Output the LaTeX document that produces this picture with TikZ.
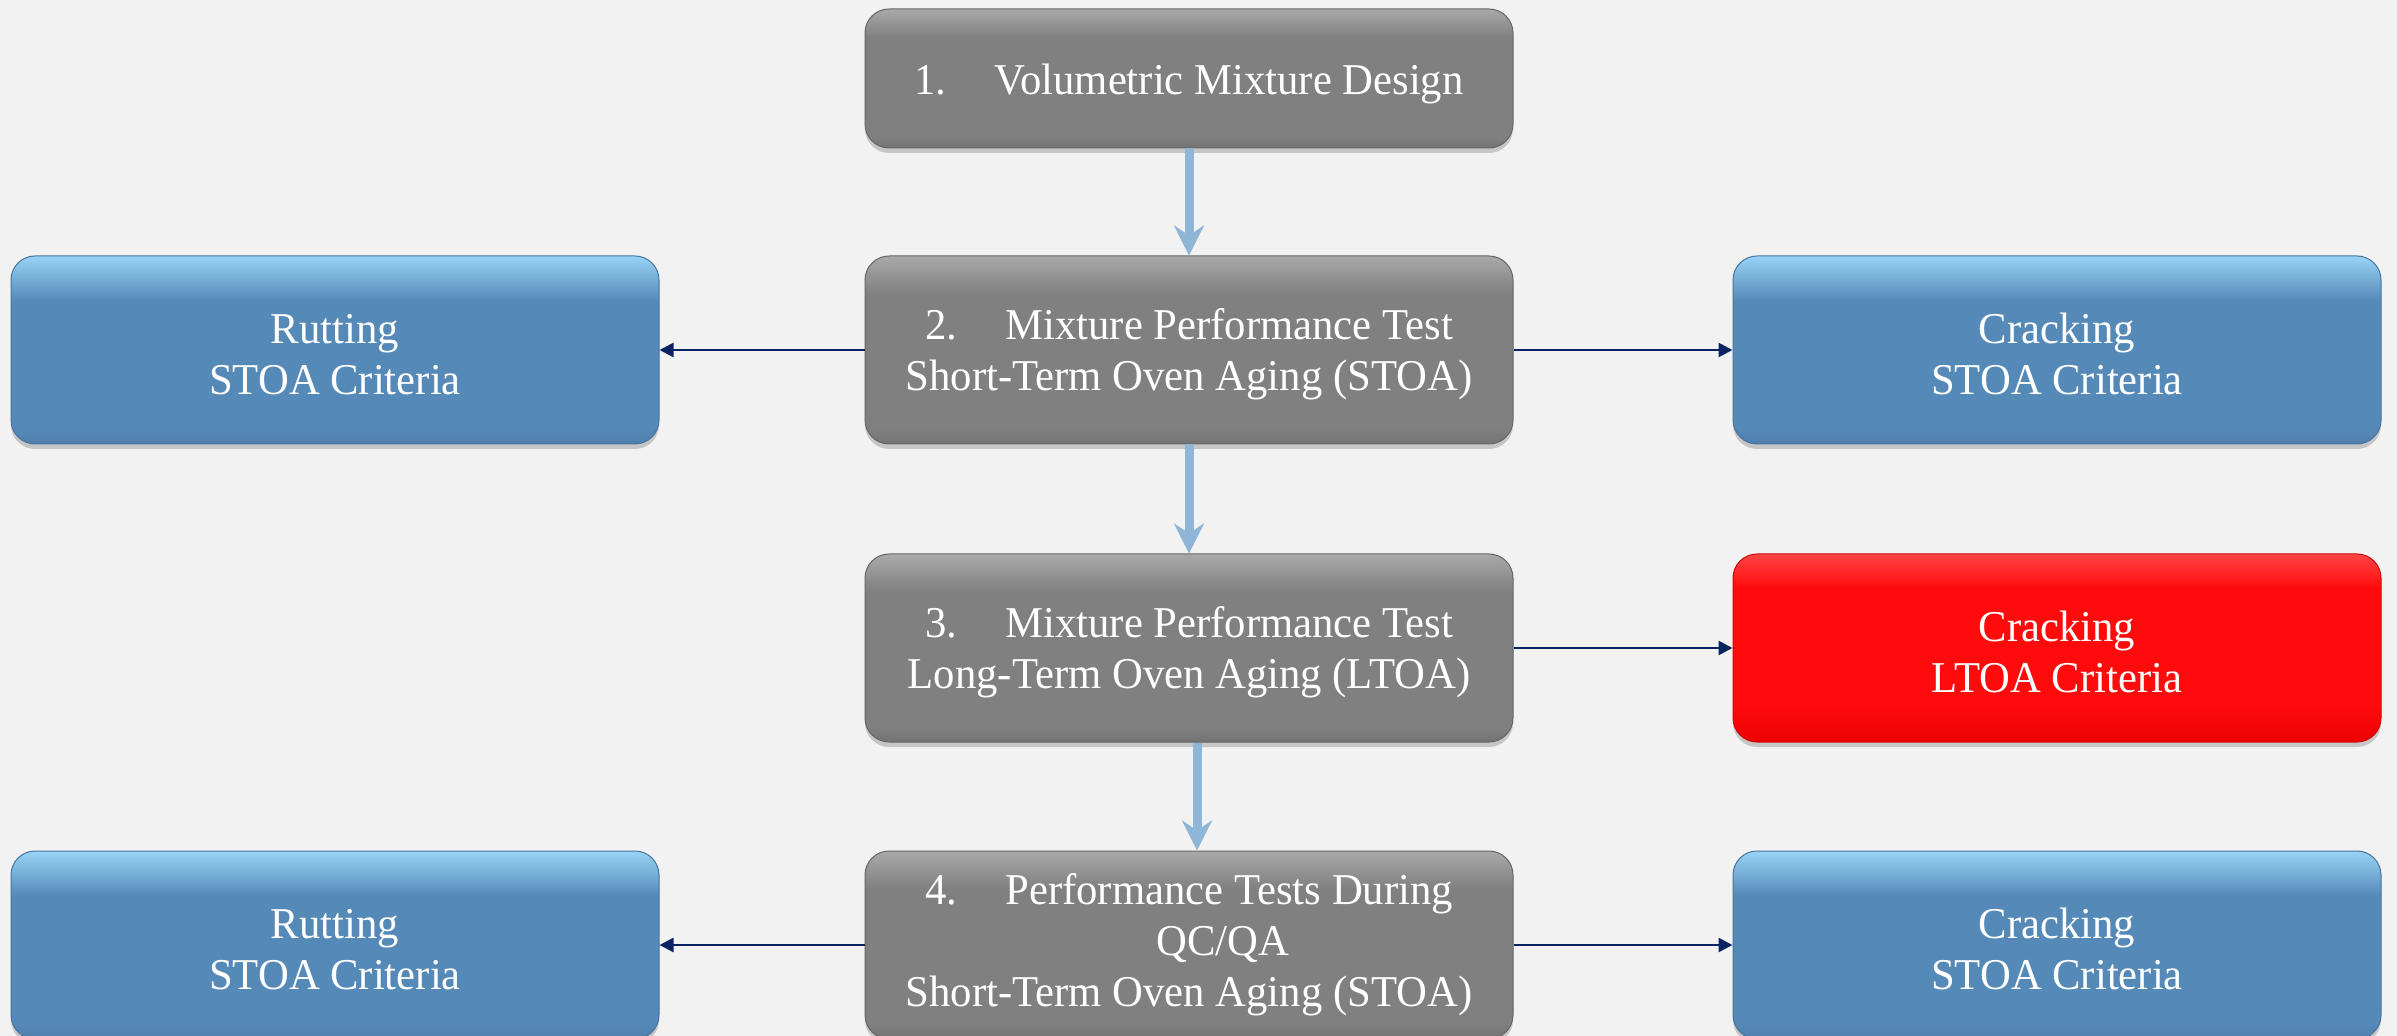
\documentclass[tikz,border=0pt]{standalone}
\usepackage{fontspec}
\setmainfont[FakeStretch=0.97]{Liberation Serif}
\usetikzlibrary{arrows.meta,positioning,shadows}
\definecolor{pagebg}{HTML}{F2F2F2}
\definecolor{stepgrey}{HTML}{808080}
\definecolor{stepgreytop}{HTML}{A9A9A9}
\definecolor{stepgreybot}{HTML}{727272}
\definecolor{critblue}{HTML}{5589B8}
\definecolor{critbluetop}{HTML}{98D3F6}
\definecolor{critbluebot}{HTML}{4E80AE}
\definecolor{critred}{HTML}{FF0B0B}
\definecolor{critredtop}{HTML}{FF4545}
\definecolor{critredbot}{HTML}{EE0000}
\definecolor{flowblue}{HTML}{8FB5D7}
\definecolor{linknavy}{HTML}{0A2463}
\pgfdeclareverticalshading{greybevel}{100bp}{color(0bp)=(stepgreybot); color(25bp)=(stepgreybot);
color(29bp)=(stepgrey); color(65bp)=(stepgrey); color(75bp)=(stepgreytop); color(100bp)=(stepgreytop)}
\pgfdeclareverticalshading{bluebevel}{100bp}{color(0bp)=(critbluebot); color(25bp)=(critbluebot);
color(29bp)=(critblue); color(63bp)=(critblue); color(75bp)=(critbluetop); color(100bp)=(critbluetop)}
\pgfdeclareverticalshading{redbevel}{100bp}{color(0bp)=(critredbot); color(25bp)=(critredbot);
color(35bp)=(critred); color(66bp)=(critred); color(75bp)=(critredtop); color(100bp)=(critredtop)}
\newcommand{\textdrop}{\rule{0pt}{19.5pt}}

\begin{document}
\begin{tikzpicture}[
every node/.style={font=\fontsize{22}{25.5}\selectfont},
box/.style={rounded corners=12pt,minimum width=324pt,minimum height=94pt,inner sep=0pt,
align=center,text=white,line width=0.5pt,shade,
drop shadow={shadow xshift=0pt,shadow yshift=-2.5pt,opacity=0.18,fill=black}},
headbox/.style={box,draw=stepgrey!80!black,shading=greybevel,minimum height=69.5pt,
execute at begin node={\rule{0pt}{21pt}}},
stepbox/.style={box,draw=stepgrey!80!black,shading=greybevel},
bluebox/.style={box,draw=critblue!85!black,shading=bluebevel},
redbox/.style={box,draw=critred!80!black,shading=redbevel},
flow/.style={-{Stealth[length=15pt,width=15pt,inset=5pt]},line width=4.5pt,draw=flowblue},
link/.style={-{Triangle[length=7pt,width=7pt]},line width=1.3pt,draw=linknavy}
]
\useasboundingbox[fill=pagebg] (0,0) rectangle (1198.5pt,-518pt);

\node[headbox] (design) at (594.5pt,-39.25pt) {1.\hspace{1.1em}Volumetric Mixture Design};
\node[stepbox,below=53.5pt of design] (stoa) {\textdrop 2.\hspace{1.1em}Mixture Performance Test\\ Short-Term Oven Aging (STOA)};
\node[stepbox,below=54.5pt of stoa]   (ltoa) {\textdrop 3.\hspace{1.1em}Mixture Performance Test\\ Long-Term Oven Aging (LTOA)};
\node[stepbox,below=54pt of ltoa]     (qcqa) {4.\hspace{1.1em}Performance Tests During\\ \hspace*{34pt}QC/QA\\ Short-Term Oven Aging (STOA)};

\node[bluebox,left=102.5pt of stoa]  (rutstoa)   {\textdrop Rutting\\ STOA Criteria};
\node[bluebox,right=109.5pt of stoa] (crackstoa) {\textdrop Cracking\\ STOA Criteria};
\node[redbox,right=109.5pt of ltoa]  (crackltoa) {\textdrop Cracking\\ LTOA Criteria};
\node[bluebox,left=102.5pt of qcqa]  (rutqc)     {\textdrop Rutting\\ STOA Criteria};
\node[bluebox,right=109.5pt of qcqa] (crackqc)   {\textdrop Cracking\\ STOA Criteria};

\draw[flow] (design) -- (stoa);
\draw[flow] (stoa) -- (ltoa);
\draw[flow] ([xshift=4pt]ltoa.south) -- ([xshift=4pt]qcqa.north);

\draw[link] (stoa) -- (rutstoa);
\draw[link] (stoa) -- (crackstoa);
\draw[link] (ltoa) -- (crackltoa);
\draw[link] (qcqa) -- (rutqc);
\draw[link] (qcqa) -- (crackqc);
\end{tikzpicture}
\end{document}
